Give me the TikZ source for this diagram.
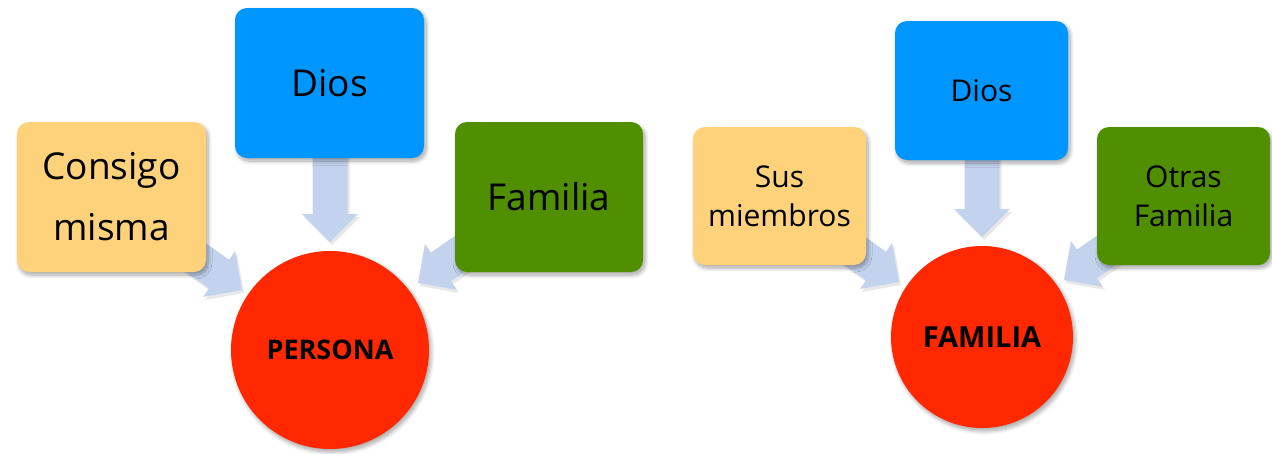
\documentclass[tikz,border=0pt]{standalone}
\usepackage{fontspec}
\setmainfont{Open Sans}
\usetikzlibrary{calc,shadows,shadows.blur}
\definecolor{boxorange}{HTML}{FDD27B}
\definecolor{boxblue}{HTML}{0096FF}
\definecolor{boxgreen}{HTML}{4F8F00}
\definecolor{circred}{HTML}{FF2800}
\definecolor{arrowblue}{HTML}{C3D3EE}
\tikzset{
  shd/.style={blur shadow={shadow xshift=2pt,shadow yshift=-3pt,shadow blur radius=4pt,shadow blur steps=8,shadow opacity=35}},
  boxnode/.style={rectangle,rounded corners=12pt,inner sep=0pt,align=center,text=black,shd},
  bigbox/.style={boxnode,minimum width=189pt,minimum height=150pt,font=\fontsize{37}{61}\selectfont},
  smallbox/.style={boxnode,minimum width=173pt,minimum height=138pt,font=\fontsize{30}{39}\selectfont},
  centre/.style={circle,fill=circred,inner sep=0pt,text=black,shd},
  arrowshape/.style={fill=arrowblue,drop shadow={opacity=0.18,shadow xshift=2pt,shadow yshift=-3pt}}
}
\newcommand\blkarrow[2]{%
  \path[arrowshape]
    ($(#1)!17.5pt!90:(#2)$) --
    ($(#2)!28pt!(#1)!17.5pt!90:(#2)$) --
    ($(#2)!28pt!(#1)!28pt!90:(#2)$) --
    (#2) --
    ($(#2)!28pt!(#1)!28pt!-90:(#2)$) --
    ($(#2)!28pt!(#1)!17.5pt!-90:(#2)$) --
    ($(#1)!17.5pt!-90:(#2)$) -- cycle;}
\begin{document}
\begin{tikzpicture}[x=1pt,y=-1pt]
\useasboundingbox (0,0) rectangle (1272,453);
% arrow end points
\coordinate (a1s) at (164,235.5);  \coordinate (a1t) at (242,290);
\coordinate (a2s) at (330,150);    \coordinate (a2t) at (330,242);
\coordinate (a3s) at (496,228.5);  \coordinate (a3t) at (418,283);
\coordinate (b1s) at (821,227.5);  \coordinate (b1t) at (899,282);
\coordinate (b2s) at (982,150);    \coordinate (b2t) at (982,237);
\coordinate (b3s) at (1142,225.5); \coordinate (b3t) at (1064,280);
\blkarrow{a1s}{a1t}
\blkarrow{a2s}{a2t}
\blkarrow{a3s}{a3t}
\blkarrow{b1s}{b1t}
\blkarrow{b2s}{b2t}
\blkarrow{b3s}{b3t}
% left group
\node[bigbox,fill=boxorange] (c1) at (111.5,197) {Consigo\\misma};
\node[bigbox,fill=boxblue] (d1) at (329.5,83) {Dios};
\node[bigbox,fill=boxgreen,minimum width=188pt] (f1) at (549,197) {Familia};
\node[centre,minimum size=198pt,font=\fontsize{27}{30}\selectfont\bfseries] (p1) at (330,350) {PERSONA};
% right group
\node[smallbox,fill=boxorange] (s2) at (779.5,196) {Sus\\miembros};
\node[smallbox,fill=boxblue,minimum height=139pt] (d2) at (981.5,90.5) {Dios};
\node[smallbox,fill=boxgreen] (o2) at (1183.5,196) {Otras\\Familia};
\node[centre,minimum size=182pt,font=\fontsize{29}{32}\selectfont\bfseries] (p2) at (982,337) {FAMILIA};
\end{tikzpicture}
\end{document}
